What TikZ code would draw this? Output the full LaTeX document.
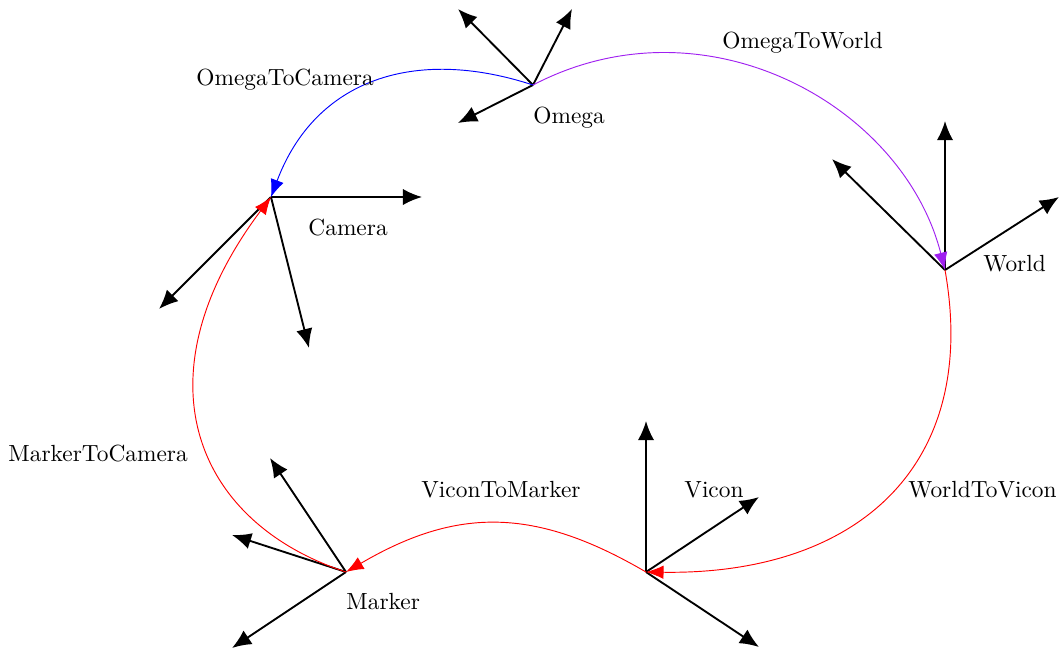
\documentclass[tikz,border=0pt]{standalone}
\usetikzlibrary{calc,arrows.meta}
\definecolor{xpurple}{RGB}{160,32,240}
\begin{document}
\begin{tikzpicture}[x=0.428pt,y=-0.428pt,
  axis/.style={thick,-{Latex[length=8.2pt,width=7pt]}},
  link/.style={-{Latex[length=7.5pt,width=5.8pt]}},
  lbl/.style={anchor=base west,inner sep=0pt}]
\useasboundingbox (0,0) rectangle (1062,653);
% frame origins
\coordinate (O) at (533,85);
\coordinate (C) at (271,197);
\coordinate (W) at (945,270);
\coordinate (V) at (646,572);
\coordinate (M) at (346,572);
% axis tips
\coordinate (O1) at (458,9);   \coordinate (O2) at (572,9);   \coordinate (O3) at (458,123);
\coordinate (C1) at (422,197); \coordinate (C2) at (159,309); \coordinate (C3) at (309,348);
\coordinate (W1) at (945,121); \coordinate (W2) at (832,159); \coordinate (W3) at (1059,197);
\coordinate (V1) at (646,421); \coordinate (V2) at (759,497); \coordinate (V3) at (759,647);
\coordinate (M1) at (270,458); \coordinate (M2) at (232,535); \coordinate (M3) at (232,648);
% axes
\foreach \f in {O,C,W,V,M}{
  \draw[axis] (\f) -- (\f1);
  \draw[axis] (\f) -- (\f2);
  \draw[axis] (\f) -- (\f3);
}
% transforms
\draw[link,blue] (O) .. controls ($(O)+(-119,-39)$) and ($(C)+(44,-117)$) .. (C);
\draw[link,xpurple] (O) .. controls ($(O)+(172,-90)$) and ($(W)+(-42,-165)$) .. (W);
\draw[link,red] (W) .. controls ($(W)+(35,197)$) and ($(V)+(210,3)$) .. (V);
\draw[link,red] (V) .. controls ($(V)+(-111,-65)$) and ($(M)+(111,-65)$) .. (M);
\draw[link,red] (M) .. controls ($(M)+(-152,-50)$) and ($(C)+(-135,180)$) .. (C);
% labels
\node[lbl] (lO) at (533,123) {Omega};
\node[lbl] (lC) at (308,235) {Camera};
\node[lbl] (lW) at (983,271) {World};
\node[lbl] (lV) at (684,497) {Vicon};
\node[lbl] (lM) at (346,609) {Marker};
\node[lbl] (lOC) at (196,85) {OmegaToCamera};
\node[lbl] (lOW) at (722,48) {OmegaToWorld};
\node[lbl] (lWV) at (908,497) {WorldToVicon};
\node[lbl] (lVM) at (421,497) {ViconToMarker};
\node[lbl] (lMC) at (8,461) {MarkerToCamera};
\end{tikzpicture}
\end{document}
